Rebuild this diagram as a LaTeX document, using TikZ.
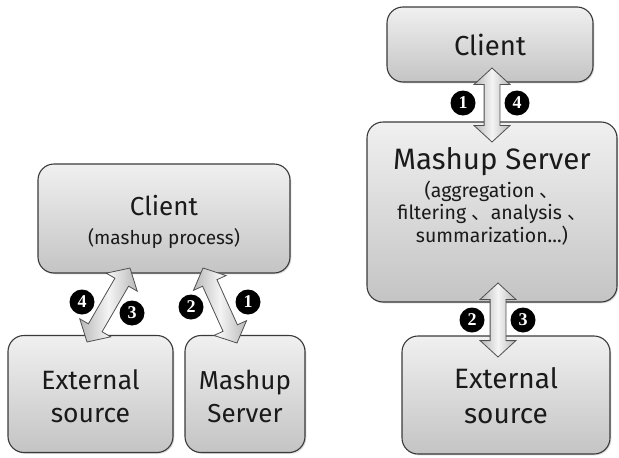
\documentclass[tikz,border=0pt]{standalone}
\usepackage{fontspec}
\setmainfont{Fira Sans}
\newfontfamily\cjk{Noto Sans CJK SC}
\newfontfamily\numfont{Liberation Serif}
\usetikzlibrary{shapes.arrows,calc,shadows}

\definecolor{boxtop}{HTML}{F0F0F0}
\definecolor{boxbot}{HTML}{C4C4C4}
\definecolor{edge}{HTML}{3A3A3A}
\definecolor{arrlight}{HTML}{F4F4F4}
\definecolor{arrdark}{HTML}{B8B8B8}
\definecolor{arredge}{HTML}{505050}
\definecolor{ink}{HTML}{1A1A1A}

\tikzset{
  panel/.style={draw=edge, line width=1.1pt, rounded corners=16pt,
    top color=boxtop, bottom color=boxbot, inner sep=0pt,
    drop shadow={shadow xshift=1.3pt, shadow yshift=-1.3pt, opacity=0.3}},
  label/.style={align=center, text=ink, inner sep=0pt},
  darrow/.style={double arrow, draw=arredge, line width=0.8pt,
    left color=arrdark, right color=arrdark, middle color=arrlight,
    inner xsep=0pt, inner ysep=7.5pt, double arrow head extend=10pt,
    double arrow tip angle=95},
  badge/.style={circle, fill=black, text=white, minimum size=25pt,
    inner sep=0pt, font=\numfont\bfseries\fontsize{18}{18}\selectfont},
}

% block double arrow between two named points
\newcommand\blockarrow[3]{%
  \path let \p1=(#1), \p2=(#2),
    \n1={atan2(\y2-\y1,\x2-\x1)}, \n2={veclen(\x2-\x1,\y2-\y1)} in
    node[darrow, minimum height=\n2, rotate=\n1] (#3) at ($(#1)!0.5!(#2)$) {};}

\begin{document}
\begin{tikzpicture}[x=1pt, y=-1pt]
\useasboundingbox (0,0) rectangle (619,458);

% ---- left: client-side mashup ----
\node[panel, minimum width=252pt, minimum height=109pt] (lclient) at (164,218.5) {};
\node[panel, minimum width=165pt, minimum height=117pt] (lext) at (90.5,394) {};
\node[panel, minimum width=120pt, minimum height=117pt] (lmash) at (245,394) {};

\node[label, font=\fontsize{26}{26}\selectfont] (lclientt) at (164,206) {Client};
\node[label, font=\fontsize{19}{19}\selectfont] (lclientp) at (164,238) {(mashup process)};
\node[label, font=\fontsize{26.5}{33}\selectfont] (lextt) at (90.5,396.5) {External\\source};
\node[label, font=\fontsize{26}{33}\selectfont] (lmasht) at (245,396.5) {Mashup\\Server};

\coordinate (la1) at (87,342);
\coordinate (la2) at (130,268);
\coordinate (lb1) at (203,268);
\coordinate (lb2) at (237,343);
\blockarrow{la1}{la2}{larrA}
\blockarrow{lb1}{lb2}{larrB}

\node[badge] (lb4) at (82,302) {4};
\node[badge] (lb3) at (132,313) {3};
\node[badge] (lb2n) at (191,307) {2};
\node[badge] (lb1n) at (248,302) {1};

% ---- right: server-side mashup ----
\node[panel, minimum width=206pt, minimum height=75pt] (rclient) at (490,44.5) {};
\node[panel, minimum width=250pt, minimum height=180pt] (rmash) at (492,212) {};
\node[panel, minimum width=208pt, minimum height=118pt] (rext) at (506,395) {};

\node[label, font=\fontsize{27.5}{27.5}\selectfont] (rclientt) at (490,45) {Client};
\node[label, font=\fontsize{29.5}{29.5}\selectfont] (rmasht) at (492,162) {Mashup Server};
\node[label, font=\fontsize{19.5}{22.5}\selectfont] (rmashd) at (492,213)
  {(aggregation {\cjk 、}\\filtering {\cjk 、}analysis {\cjk 、}\\summarization...)};
\node[label, font=\fontsize{28}{35}\selectfont] (rextt) at (506,395.5) {External\\source};

\coordinate (ra1) at (492,68);
\coordinate (ra2) at (492,142);
\coordinate (rb1) at (498,283);
\coordinate (rb2) at (498,357);
\blockarrow{ra1}{ra2}{rarrA}
\blockarrow{rb1}{rb2}{rarrB}

\node[badge] (rb1n) at (463,103) {1};
\node[badge] (rb4) at (517,103) {4};
\node[badge] (rb2n) at (472,320) {2};
\node[badge] (rb3) at (523,320) {3};
\end{tikzpicture}
\end{document}
